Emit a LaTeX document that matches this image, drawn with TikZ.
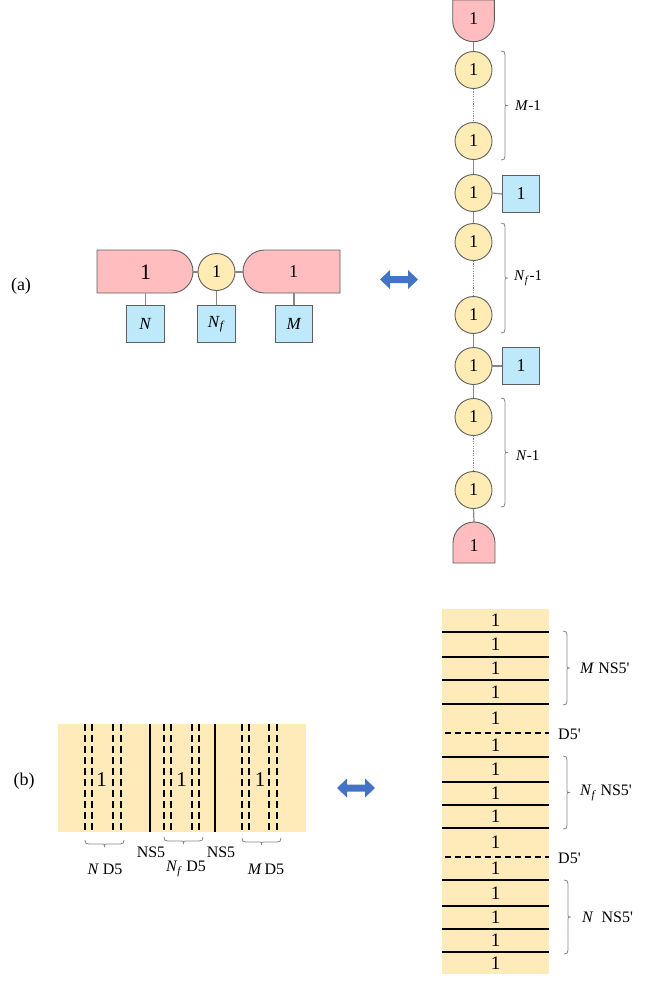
\documentclass[tikz,border=0pt]{standalone}
\usepackage{fontspec}
\setmainfont{Liberation Serif}
\definecolor{pinkc}{RGB}{255,189,192}
\definecolor{circy}{RGB}{255,236,180}
\definecolor{boxblue}{RGB}{190,233,250}
\definecolor{bordergray}{RGB}{95,95,95}
\definecolor{conngray}{RGB}{135,135,135}
\definecolor{branec}{RGB}{255,235,185}
\definecolor{arrowblue}{RGB}{68,114,196}
\newcommand\fs[1]{\fontsize{#1}{#1}\selectfont}
\newcommand\Nf{\textit{N}\textsubscript{\textit{f}}}
\newcommand\pr{\textquotesingle}
% vertical brace, tip to the right: x, y1, y2
\newcommand\rbr[3]{%
  \draw[brc] (#1,#2) .. controls ({#1+3},#2) and ({#1+4},{#2+1}) .. ({#1+4},{#2+4})
    -- ({#1+4},{(#2+#3)/2-2}) .. controls ({#1+4},{(#2+#3)/2}) .. ({#1+7},{(#2+#3)/2})
    .. controls ({#1+4},{(#2+#3)/2}) .. ({#1+4},{(#2+#3)/2+2})
    -- ({#1+4},{#3-4}) .. controls ({#1+4},{#3-1}) and ({#1+3},#3) .. (#1,#3);}
% horizontal brace, tip downward: y, x1, x2
\newcommand\dbr[3]{%
  \draw[brc] (#2,#1) .. controls (#2,{#1+3}) and ({#2+1},{#1+4}) .. ({#2+4},{#1+4})
    -- ({(#2+#3)/2-2},{#1+4}) .. controls ({(#2+#3)/2},{#1+4}) .. ({(#2+#3)/2},{#1+7})
    .. controls ({(#2+#3)/2},{#1+4}) .. ({(#2+#3)/2+2},{#1+4})
    -- ({#3-4},{#1+4}) .. controls ({#3-1},{#1+4}) and (#3,{#1+3}) .. (#3,#1);}
\begin{document}
\begin{tikzpicture}[x=1pt,y=-1pt,
  qnode/.style={circle, draw=bordergray, line width=0.9pt, fill=circy, minimum size=37pt, inner sep=0pt, font=\fs{18}},
  fbox/.style={rectangle, draw=bordergray, line width=0.9pt, fill=boxblue, minimum size=37.5pt, inner sep=0pt, font=\fs{17}},
  pinkshape/.style={fill=pinkc, draw=bordergray, line width=0.9pt},
  conn/.style={draw=conngray, line width=1.2pt},
  dconn/.style={draw=conngray, line width=0.8pt, dash pattern=on 1.2pt off 1.2pt},
  brc/.style={draw=conngray, line width=0.8pt},
  lbl/.style={font=\fs{16}, inner sep=0pt},
  ns5/.style={draw=black, line width=1.8pt},
  dfive/.style={draw=black, line width=1.8pt, dash pattern=on 7pt off 4pt},
  ns5h/.style={draw=black, line width=1.6pt},
  dfiveh/.style={draw=black, line width=1.5pt, dash pattern=on 6pt off 4pt},
  dblarrow/.pic={\fill[arrowblue] (-19,0) -- (-9,-9.5) -- (-9,-3.5) -- (9,-3.5) -- (9,-9.5) -- (19,0) -- (9,9.5) -- (9,3.5) -- (-9,3.5) -- (-9,9.5) -- cycle;}
]
\useasboundingbox (0,0) rectangle (654,990);

% ---------------- (a) left quiver ----------------
\node[font=\fs{18}] (la) at (21,286) {(a)};
\path[pinkshape] (97,250) -- (171.5,250) arc[start angle=-90,end angle=90,radius=21.5] -- (97,293) -- cycle;
\path[pinkshape] (340,250) -- (264.5,250) arc[start angle=-90,end angle=-270,radius=21.5] -- (340,293) -- cycle;
\node[font=\fs{22}] (L1) at (145.5,272) {1};
\node[font=\fs{18}] (R1) at (293.5,272) {1};
\node[qnode] (qa) at (216.5,272) {1};
\coordinate (Lend) at (193,272);
\coordinate (Rend) at (243,272);
\coordinate (Lbot) at (145.5,293);
\coordinate (Rbot) at (294,293);
\node[fbox] (bN) at (145.5,324) {\textit{N}};
\node[fbox] (bNf) at (216.5,324) {\Nf};
\node[fbox] (bM) at (294,324) {\textit{M}};
\draw[conn] (Lend) -- (qa.west);
\draw[conn] (qa.east) -- (Rend);
\draw[conn] (Lbot) -- (bN.north);
\draw[conn] (qa.south) -- (bNf.north);
\draw[conn] (Rbot) -- (bM.north);

\pic at (399,279.5) {dblarrow};

% ---------------- (a) right chain ----------------
\path[pinkshape] (452.7,0) -- (494.3,0) -- (494.3,20.9) arc[start angle=0,end angle=180,radius=20.8] -- cycle;
\node[font=\fs{18}] (ptext) at (473.5,19) {1};
\coordinate (ptop) at (473.5,41.7);
\path[pinkshape] (453,563) -- (453,543) arc[start angle=180,end angle=360,radius=21] -- (495,563) -- cycle;
\node[font=\fs{18}] (pbtext) at (474,546) {1};
\coordinate (pbot) at (474,522);

\node[qnode] (c1) at (473.5,70) {1};
\node[qnode] (c2) at (473.5,141) {1};
\node[qnode] (c3) at (473.5,193) {1};
\node[qnode] (c4) at (473.5,242) {1};
\node[qnode] (c5) at (473.5,315) {1};
\node[qnode] (c6) at (473.5,366) {1};
\node[qnode] (c7) at (473.5,417) {1};
\node[qnode] (c8) at (473.5,490) {1};
\node[fbox,font=\fs{18}] (f1) at (521,194) {1};
\node[fbox,font=\fs{18}] (f2) at (521,366) {1};

\draw[conn] (ptop) -- (c1.north);
\draw[dconn] (c1.south) -- (c2.north);
\draw[conn] (c2.south) -- (c3.north);
\draw[conn] (c3.south) -- (c4.north);
\draw[dconn] (c4.south) -- (c5.north);
\draw[conn] (c5.south) -- (c6.north);
\draw[conn] (c6.south) -- (c7.north);
\draw[dconn] (c7.south) -- (c8.north);
\draw[conn] (c8.south) -- (pbot);
\draw[conn] (c3.east) -- (f1.west);
\draw[conn] (c6.east) -- (f2.west);

\rbr{501}{51}{160}
\node[lbl, anchor=west, font=\fs{15}] (m1) at (515,106) {\textit{M}-1};
\rbr{501}{223}{333}
\node[lbl, anchor=west, font=\fs{15}] (nf1) at (514,278) {\Nf-1};
\rbr{501}{398}{507}
\node[lbl, anchor=west, font=\fs{15}] (n1) at (516,456) {\textit{N}-1};

% ---------------- (b) left branes ----------------
\node[font=\fs{18}] (lb) at (24,781) {(b)};
\fill[branec] (58,724) rectangle (306,832);
\foreach \x in {150,215} \draw[ns5] (\x,724) -- (\x,832);
\foreach \x in {85,92.3,113.3,120.7,164,171,191.7,199.3,241.7,249,269.3,276.7}
  \draw[dfive] (\x,724) -- (\x,832);
\node[font=\fs{21}] (o1) at (101.7,780) {1};
\node[font=\fs{21}] (o2) at (181.7,780) {1};
\node[font=\fs{21}] (o3) at (260,780) {1};
\dbr{840}{85}{124}
\dbr{837}{164}{203}
\dbr{838}{242}{281}
\node[lbl] (ns5a) at (151,852) {NS5};
\node[lbl] (ns5b) at (221,852) {NS5};
\node[lbl] (nd5) at (105,869) {\textit{N} D5};
\node[lbl] (nfd5) at (186,869) {\Nf{} D5};
\node[lbl] (md5) at (266,869) {\textit{M}\,D5};

\pic at (356,788) {dblarrow};

% ---------------- (b) right branes ----------------
\fill[branec] (442,609) rectangle (549,974);
\foreach \y in {632,657,680,704,757,782,805,828,880,906,929,952}
  \draw[ns5h] (442,\y) -- (549,\y);
\foreach \y in {733,857}
  \draw[dfiveh] (445,\y) -- (549,\y);
\foreach \y in {620.5,644.5,668.5,692,718.5,745,769.5,793.5,816.5,842.5,868.5,893,917.5,940.5,963}
  \node[font=\fs{19}] at (495.5,\y) {1};
\rbr{563}{631}{705}
\node[lbl, anchor=west] (mns) at (580,668) {\textit{M} NS5\pr};
\node[lbl, anchor=west] (d5a) at (558,734) {D5\pr};
\rbr{563}{756}{829}
\node[lbl, anchor=west] (nfns) at (580,793) {\Nf{} NS5\pr};
\node[lbl, anchor=west] (d5b) at (558,858) {D5\pr};
\rbr{564}{880}{954}
\node[lbl, anchor=west] (nns) at (582,917) {\textit{N}\enspace NS5\pr};
\end{tikzpicture}
\end{document}
